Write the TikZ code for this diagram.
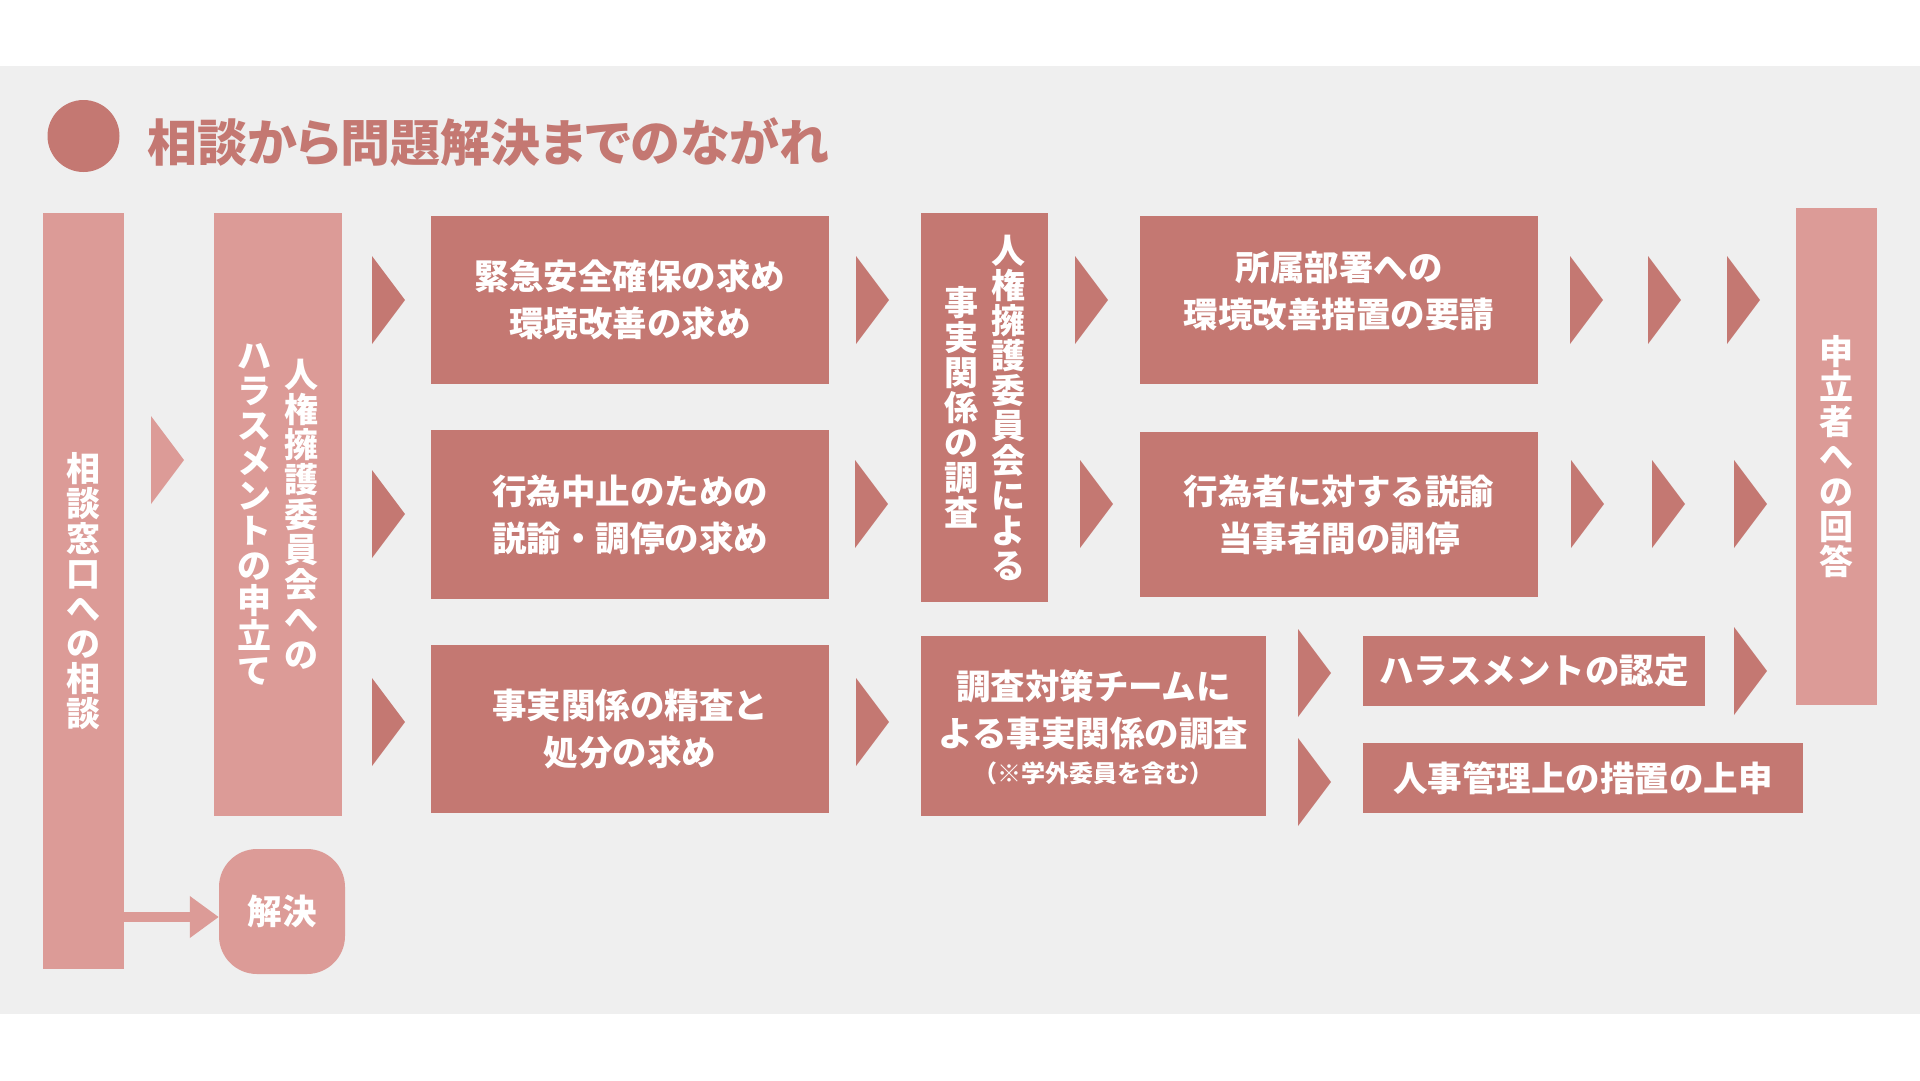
\documentclass[tikz,border=0pt]{standalone}
\usepackage{fontspec}
\newfontfamily\jp{Noto Sans CJK JP}
\newfontfamily\jpp{Noto Sans CJK JP}[RawFeature=+palt]
\usetikzlibrary{arrows.meta}

\definecolor{rose}{RGB}{196,120,114}
\definecolor{blush}{RGB}{220,155,151}
\definecolor{band}{RGB}{239,239,239}

\makeatletter
\newcommand\tate[1]{\vbox{\@tfor\tate@c:=#1\do{\hbox to 1em{\hss\tate@c\hss}}}}
\makeatother
\newcommand\tatetwo[2]{$\vcenter{\tate{#2}}\hskip13pt\vcenter{\tate{#1}}$}
\newcommand\chev[3]{\fill[#3] (#1,#2-44) -- (#1+33,#2) -- (#1,#2+44) -- cycle;}

\begin{document}
\begin{tikzpicture}[x=1pt,y=-1pt,
    darkbox/.style={fill=rose,text=white,inner sep=0pt,align=center,
      font={\jp\bfseries\fontsize{34.5}{47}\selectfont}},
    lightbox/.style={darkbox,fill=blush},
    vfont/.style={font={\jp\bfseries\fontsize{34}{35}\selectfont}}]
  \useasboundingbox[fill=white] (0,0) rectangle (1920,1080);
  \fill[band] (0,66) rectangle (1920,1014);

  % title
  \fill[rose] (83.5,136) circle (36pt);
  \node[anchor=west,text=rose,inner sep=0pt,font={\jpp\bfseries\fontsize{50}{58}\selectfont}] (title) at (147,142) {相談から問題解決までのながれ};

  % consultation
  \node[lightbox,minimum width=81pt,minimum height=756pt,vfont] (soudan) at (83.5,591) {\tate{相談窓口への相談}};
  \node[lightbox,minimum width=128pt,minimum height=603pt,vfont] (moushi) at (278,514.5) {\tatetwo{人権擁護委員会への}{ハラスメントの申立て}};
  \node[lightbox,minimum width=126pt,minimum height=125pt,rounded corners=38pt] (kaiketsu) at (282,911.5) {解決};

  % requests
  \node[darkbox,minimum width=398pt,minimum height=168pt] (kinkyu) at (630,300) {緊急安全確保の求め\\環境改善の求め};
  \node[darkbox,minimum width=398pt,minimum height=169pt] (chushi) at (630,514.5) {行為中止のための\\説諭・調停の求め};
  \node[darkbox,minimum width=398pt,minimum height=168pt] (seisa) at (630,729) {事実関係の精査と\\処分の求め};

  % investigation
  \node[darkbox,minimum width=127pt,minimum height=389pt,vfont] (iinkai) at (984.5,407.5) {\tatetwo{人権擁護委員会による}{事実関係の調査}};
  \node[darkbox,minimum width=345pt,minimum height=180pt,text depth=0pt] (team) at (1093.5,726) {調査対策チームに\\よる事実関係の調査\\[-11pt]{\fontsize{24}{30}\selectfont （※学外委員を含む）}};

  % measures
  \node[darkbox,minimum width=398pt,minimum height=168pt,text depth=22pt] (youshin) at (1339,300) {所属部署への\\環境改善措置の要請};
  \node[darkbox,minimum width=398pt,minimum height=165pt] (setsuyu) at (1339,514.5) {行為者に対する説諭\\当事者間の調停};
  \node[darkbox,minimum width=342pt,minimum height=70pt] (nintei) at (1534,671) {ハラスメントの認定};
  \node[darkbox,minimum width=440pt,minimum height=70pt] (joushin) at (1583,778) {人事管理上の措置の上申};
  \node[lightbox,minimum width=81pt,minimum height=497pt,vfont] (kaitou) at (1836.5,456.5) {\tate{申立者への回答}};

  % chevrons
  \chev{151}{460}{blush}
  \foreach \y in {300,514,722} {\chev{372}{\y}{rose}}
  \chev{856}{300}{rose}
  \chev{855}{504}{rose}
  \chev{856}{722}{rose}
  \chev{1075}{300}{rose}
  \chev{1080}{504}{rose}
  \foreach \x in {1570,1648,1727} {\chev{\x}{300}{rose}}
  \foreach \x in {1571,1652,1734} {\chev{\x}{504}{rose}}
  \chev{1298}{673}{rose}
  \chev{1298}{782}{rose}
  \chev{1734}{671}{rose}

  % resolved
  \draw[blush,line width=10pt,-{Triangle[length=29pt,width=40pt]}] (soudan.east |- 0,917) -- (kaiketsu.west |- 0,917);
\end{tikzpicture}
\end{document}
